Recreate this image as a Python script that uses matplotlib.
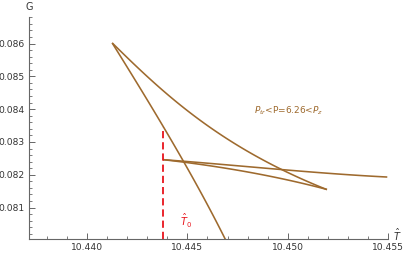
import numpy as np
import matplotlib
matplotlib.use("Agg")
import matplotlib.pyplot as plt
from matplotlib.ticker import MultipleLocator, FixedLocator

# branches of G(T)
steep_T = [10.44125, 10.44299, 10.44379, 10.44489, 10.44688, 10.44703]
steep_G = [0.08602, 0.08431, 0.08345, 0.08233, 0.08004, 0.07986]

upper_T = [10.44125, 10.44269, 10.44414, 10.44628, 10.44813, 10.44972, 10.45196]
upper_G = [0.08602, 0.08519, 0.08434, 0.08342, 0.08266, 0.08214, 0.08155]

lower_T = [10.44379, 10.44813, 10.45196]
lower_G = [0.08246, 0.08207, 0.08155]

right_T = [10.44379, 10.44813, 10.45211, 10.45496]
right_G = [0.08246, 0.08224, 0.08204, 0.08193]

T0 = 10.44379
G_T0 = 0.08345

xticks = [10.440, 10.445, 10.450, 10.455]
yticks = [0.081, 0.082, 0.083, 0.084, 0.085, 0.086]

brown = '#9e6a2e'
axcol = '#666666'

fig = plt.figure(figsize=(4.03, 2.54), dpi=100)
ax = fig.add_axes([0.072, 0.059, 0.891, 0.874])
xmin, xmax = 10.43711, 10.455
ymin, ymax = 0.08004, 0.08681
ax.set_xlim(xmin, xmax)
ax.set_ylim(ymin, ymax)

def smooth(xs, ys, n=60):
    xs = np.array(xs); ys = np.array(ys)
    t = np.concatenate([[0], np.cumsum(np.hypot(np.diff(xs) / 0.005, np.diff(ys) / 0.001))])
    tt = np.linspace(0, t[-1], n)
    if len(xs) > 2:
        deg = min(3, len(xs) - 1)
        px = np.polyfit(t, xs, deg); py = np.polyfit(t, ys, deg)
        return np.polyval(px, tt), np.polyval(py, tt)
    return np.interp(tt, t, xs), np.interp(tt, t, ys)

for xs, ys in [(steep_T, steep_G), (upper_T, upper_G), (lower_T, lower_G), (right_T, right_G)]:
    sx, sy = smooth(xs, ys)
    ax.plot(sx, sy, color=brown, lw=1.15, solid_capstyle='butt')

ax.plot([T0, T0], [ymin, G_T0], color='#e8141c', lw=1.3, dashes=(4, 2.2))

ax.text(10.44493, 0.08060, r'$\hat{T}_0$', color='#e8141c', fontsize=7, ha='center', va='center')
ax.text(10.4483, 0.08395, r'$P_{tr}$<P=6.26<$P_z$', color=brown, fontsize=6.5,
        ha='left', va='center')

for s in ['top', 'right']:
    ax.spines[s].set_visible(False)
for s in ['left', 'bottom']:
    ax.spines[s].set_color(axcol)
    ax.spines[s].set_linewidth(0.8)

ax.xaxis.set_major_locator(FixedLocator(xticks))
ax.yaxis.set_major_locator(FixedLocator(yticks))
ax.xaxis.set_minor_locator(MultipleLocator(0.001))
ax.yaxis.set_minor_locator(MultipleLocator(0.0002))
ax.set_xticklabels(['%.3f' % v for v in xticks])
ax.set_yticklabels(['%.3f' % v for v in yticks])
ax.tick_params(which='both', direction='in', color=axcol, labelcolor='#333333', labelsize=6.6, pad=3)
ax.tick_params(which='major', length=4, width=0.7)
ax.tick_params(which='minor', length=2.3, width=0.6)

fig.text(29 / 403, 1 - 7 / 254, 'G', fontsize=7, color='#333333', ha='center', va='center')
fig.text(397 / 403, 1 - 235 / 254, r'$\hat{T}$', fontsize=7, color='#333333', ha='center', va='center')

fig.savefig('out.png', dpi=100)
